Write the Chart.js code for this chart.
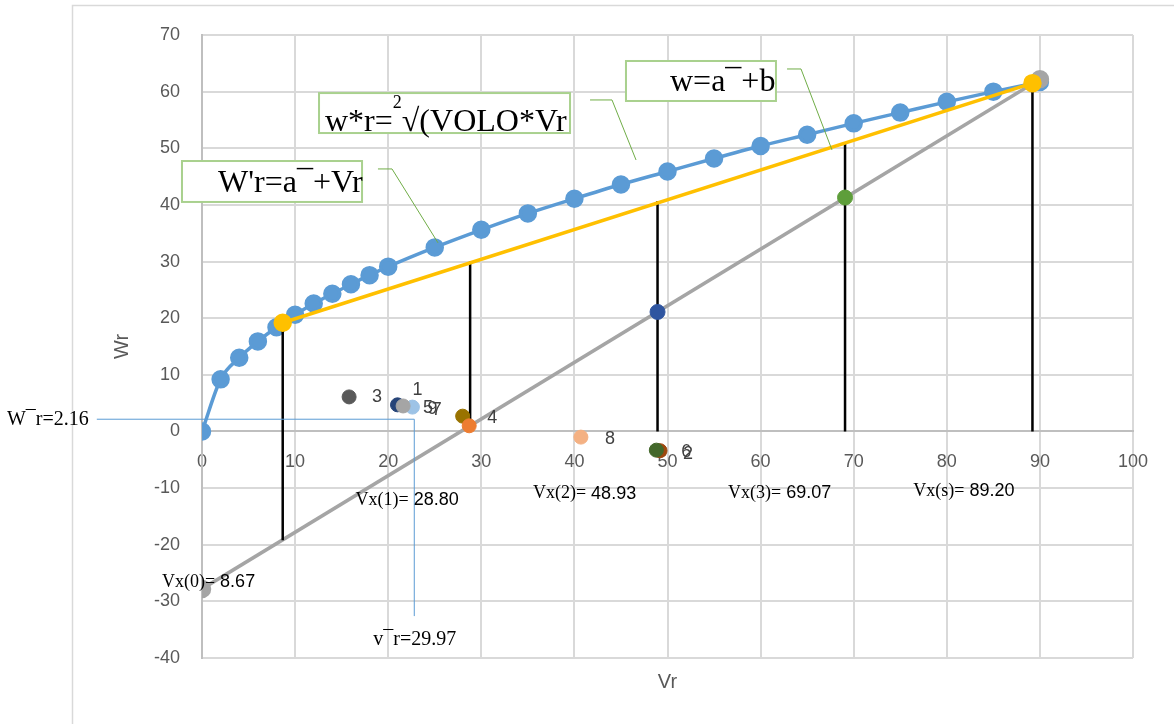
<!DOCTYPE html>
<html>
<head>
<meta charset="utf-8">
<script src="https://cdn.jsdelivr.net/npm/chart.js@4.4.0/dist/chart.umd.min.js"></script>
<style>
  body { margin: 0; background: #fff; }
  #wrap { width: 1174px; height: 724px; }
</style>
</head>
<body>
<div id="wrap"><canvas id="vrChart" width="1174" height="724"></canvas></div>
<script>
// w*r curve
const curveVr = [0, 2, 4, 6, 8, 10, 12, 14, 16, 18, 20, 25, 30, 35, 40, 45, 50, 55, 60, 65, 70, 75, 80, 85, 90];
const curveWr = [0, 9.2, 13.0, 15.9, 18.4, 20.6, 22.6, 24.3, 26.0, 27.6, 29.1, 32.5, 35.6, 38.5, 41.1, 43.6, 45.9, 48.2, 50.4, 52.4, 54.4, 56.3, 58.2, 60.0, 61.7];

// W'r = a + Vr (yellow)
const tangentVr = [8.67, 89.2];
const tangentWr = [19.2, 61.5];

// grey diagonal
const diagVr = [0, 90];
const diagWr = [-27.8, 62.2];

// Vx steps
const vxNames = ["Vx(0)=", "Vx(1)=", "Vx(2)=", "Vx(3)=", "Vx(s)="];
const vxValues = [8.67, 28.80, 48.93, 69.07, 89.20];
const vxTop = [19.2, 30.0, 40.7, 51.0, 61.5];
const vxBottom = [-19.2, 1.0, 0, 0, 0];

// points where the steps hit the diagonal
const hitVr = [48.93, 69.07];
const hitWr = [21.1, 41.3];

// numbered points
const pointLabels = ["3", "1", "9", "5", "7", "4", "8", "2", "6"];
const pointVr = [15.8, 21.0, 22.6, 21.6, 28.0, 28.7, 40.7, 49.2, 48.8];
const pointWr = [6.1, 4.7, 4.3, 4.5, 2.7, 1.0, -1.0, -3.4, -3.3];

// mean guide
const meanW = 2.16;
const meanV = 29.97;

const pointColors = ["#595959", "#264478", "#9DC3E6", "#A5A5A5", "#997300", "#ED7D31", "#F4B183", "#9E480E", "#43682B"];
const labelShift = [[28, 0], [20, -15], [20, 2], [25, 2], [-26, -6], [23, -8], [29, 2], [28, 3], [30, 2]];

const serif = '"Liberation Serif", "Times New Roman", serif';
const sans = '"Liberation Sans", Arial, sans-serif';

const xy = (xs, ys) => xs.map((x, i) => ({ x: x, y: ys[i] }));

const stepSets = vxValues.map((v, i) => ({
  data: [{ x: v, y: vxTop[i] }, { x: v, y: vxBottom[i] }],
  showLine: true,
  borderColor: "#000",
  borderWidth: 2.5,
  pointRadius: 0,
  order: 3
}));

// text pieces in mixed fonts, left aligned
function drawParts(ctx, parts, x, y) {
  let cx = x;
  parts.forEach(p => {
    ctx.font = p.font;
    ctx.fillText(p.t, cx, y + (p.dy || 0));
    cx += ctx.measureText(p.t).width;
  });
}

const callouts = [
  { box: [-2.15, 47.75, 17.19, 40.52], text: [1.72, 42.2], lead: [[18.9, 46.35], [20.41, 46.35], [25.35, 33.3]],
    parts: [{ t: "W'r=a\u00AF+Vr", font: "32px " + serif }] },
  { box: [12.57, 59.75, 39.53, 52.69], text: [13.21, 53.0], lead: [[41.68, 58.53], [44.04, 58.53], [46.62, 47.93]],
    parts: [{ t: "w*r=", font: "32px " + serif }, { t: "2", font: "18px " + serif, dy: -23 }, { t: "\u221A(VOLO*Vr", font: "32px " + serif }] },
  { box: [45.54, 65.41, 61.65, 58.35], text: [50.27, 60.1], lead: [[62.84, 64.0], [64.34, 64.0], [67.67, 49.7]],
    parts: [{ t: "w=a\u00AF+b", font: "32px " + serif }] }
];

const vxLabelPos = [[-4.3, -26.6], [16.5, -12.1], [35.55, -11.0], [56.5, -10.9], [76.4, -10.5]];

const annotations = {
  id: "annotations",
  beforeDraw(chart) {
    const ctx = chart.ctx;
    ctx.save();
    ctx.fillStyle = "#fff";
    ctx.fillRect(0, 0, chart.width, chart.height);
    ctx.strokeStyle = "#d9d9d9";
    ctx.lineWidth = 1.5;
    ctx.strokeRect(72.5, 5.5, chart.width, chart.height);
    ctx.restore();
  },
  afterDatasetsDraw(chart) {
    const ctx = chart.ctx;
    const X = v => chart.scales.x.getPixelForValue(v);
    const Y = v => chart.scales.y.getPixelForValue(v);
    ctx.save();

    // mean guide lines
    const gx = 22.8;
    ctx.strokeStyle = "#5B9BD5";
    ctx.lineWidth = 1;
    ctx.beginPath();
    ctx.moveTo(X(-11.3), Y(meanW));
    ctx.lineTo(X(gx), Y(meanW));
    ctx.lineTo(X(gx), Y(-32.6));
    ctx.stroke();

    // number labels
    ctx.fillStyle = "#404040";
    ctx.font = "18px " + sans;
    ctx.textAlign = "center";
    ctx.textBaseline = "middle";
    pointLabels.forEach((t, i) => {
      ctx.fillText(t, X(pointVr[i]) + labelShift[i][0], Y(pointWr[i]) + labelShift[i][1]);
    });

    // Vx labels
    ctx.fillStyle = "#000";
    ctx.textAlign = "left";
    vxNames.forEach((n, i) => {
      const p = vxLabelPos[i];
      drawParts(ctx, [{ t: n, font: "18px " + serif }, { t: " " + vxValues[i].toFixed(2), font: "18px " + sans }], X(p[0]), Y(p[1]));
    });

    drawParts(ctx, [{ t: "W\u00AFr=" + meanW.toFixed(2), font: "20px " + serif }], X(-20.95), Y(2.0));
    drawParts(ctx, [{ t: "v\u00AFr=" + meanV.toFixed(2), font: "20px " + serif }], X(18.4), Y(-36.8));

    // callouts
    ctx.textBaseline = "alphabetic";
    callouts.forEach(c => {
      ctx.strokeStyle = "#70AD47";
      ctx.lineWidth = 1;
      ctx.beginPath();
      c.lead.forEach((p, i) => i ? ctx.lineTo(X(p[0]), Y(p[1])) : ctx.moveTo(X(p[0]), Y(p[1])));
      ctx.stroke();
      const [x0, y0, x1, y1] = c.box;
      ctx.fillStyle = "#fff";
      ctx.fillRect(X(x0), Y(y0), X(x1) - X(x0), Y(y1) - Y(y0));
      ctx.strokeStyle = "#A9D18E";
      ctx.lineWidth = 2;
      ctx.strokeRect(X(x0), Y(y0), X(x1) - X(x0), Y(y1) - Y(y0));
      ctx.fillStyle = "#000";
      drawParts(ctx, c.parts, X(c.text[0]), Y(c.text[1]));
    });
    ctx.restore();
  }
};

const gridStyle = { color: "#d9d9d9", lineWidth: 2, drawTicks: false };

new Chart(document.getElementById("vrChart"), {
  type: "scatter",
  data: {
    datasets: [
      {
        data: xy(pointVr, pointWr),
        pointBackgroundColor: pointColors,
        pointBorderColor: pointColors,
        pointRadius: 7,
        order: 0
      },
      {
        data: xy(hitVr, hitWr),
        pointBackgroundColor: ["#2F55A0", "#5E9E3A"],
        pointBorderColor: ["#2F55A0", "#5E9E3A"],
        pointRadius: 7.5,
        order: 1
      },
      ...stepSets,
      {
        data: xy(tangentVr, tangentWr),
        showLine: true,
        borderColor: "#FFC000",
        backgroundColor: "#FFC000",
        borderWidth: 3.5,
        pointRadius: 7.5,
        order: 2
      },
      {
        data: xy(diagVr, diagWr),
        showLine: true,
        borderColor: "#A5A5A5",
        backgroundColor: "#A5A5A5",
        borderWidth: 3.5,
        pointRadius: 7.5,
        order: 4
      },
      {
        data: xy(curveVr, curveWr),
        showLine: true,
        borderColor: "#5B9BD5",
        backgroundColor: "#5B9BD5",
        borderWidth: 3.5,
        pointRadius: 7.5,
        cubicInterpolationMode: "monotone",
        order: 5
      }
    ]
  },
  options: {
    responsive: false,
    animation: false,
    layout: { padding: { left: 72, top: 35, right: 41, bottom: 0 } },
    plugins: { legend: { display: false }, tooltip: { enabled: false } },
    scales: {
      x: {
        type: "linear",
        position: { y: 0 },
        min: 0,
        max: 100,
        ticks: { stepSize: 10, padding: 20, color: "#595959", font: { family: sans, size: 18 } },
        grid: gridStyle,
        border: { color: "#bfbfbf", width: 2 }
      },
      x2: {
        type: "linear",
        position: "bottom",
        min: 0,
        max: 100,
        ticks: { display: false },
        grid: { display: false },
        border: { display: false },
        title: { display: true, text: "Vr", color: "#595959", font: { family: sans, size: 20 }, padding: { bottom: 30 } },
        afterFit: s => { s.height = 66; }
      },
      y: {
        min: -40,
        max: 70,
        ticks: { stepSize: 10, padding: 22, color: "#595959", font: { family: sans, size: 18 } },
        grid: gridStyle,
        border: { color: "#bfbfbf", width: 2 },
        title: { display: true, text: "Wr", color: "#595959", font: { family: sans, size: 20 }, padding: { top: 38 } },
        afterFit: s => { s.width = 130; }
      }
    }
  },
  plugins: [annotations]
});
</script>
</body>
</html>
